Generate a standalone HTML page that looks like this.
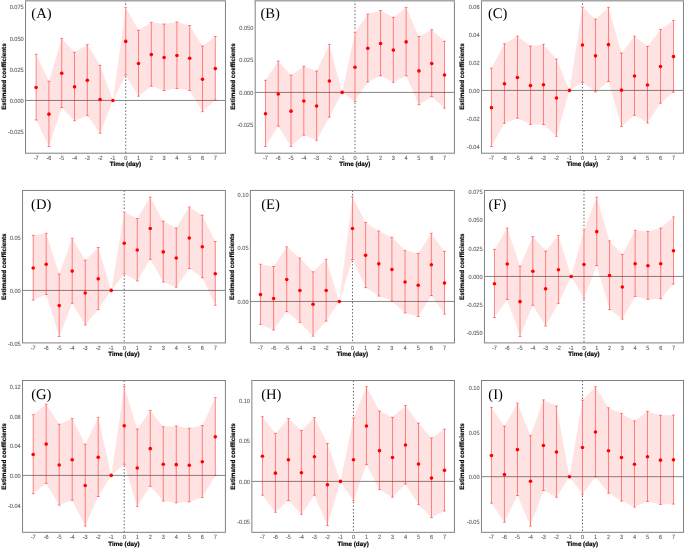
<!DOCTYPE html>
<html><head><meta charset="utf-8"><style>
html,body{margin:0;padding:0;background:#fff;}
body{width:685px;height:548px;overflow:hidden;}
svg{display:block;will-change:transform;}
text{text-rendering:geometricPrecision;}
.tk{font-family:"Liberation Sans",sans-serif;font-size:5.6px;fill:#5a5a5a;stroke:#5a5a5a;stroke-width:0.08px;}
.tt{font-family:"Liberation Sans",sans-serif;font-size:6.27px;font-weight:bold;fill:#000;stroke:#000;stroke-width:0.18px;}
.lt{font-family:"Liberation Serif",serif;font-size:14.6px;fill:#000;}
</style></head><body>
<svg width="685" height="548" viewBox="0 0 685 548">
<rect width="685" height="548" fill="#fff"/>
<path d="M125.72 0V6.1M125.72 76.1V153.2" stroke="#4a4a4a" stroke-width="0.9" stroke-dasharray="1.4 2.03" fill="none"/>
<line x1="25.54" x2="225.45" y1="100.45" y2="100.45" stroke="#858585" stroke-width="1.0"/>
<polygon points="36.13,54.3 48.93,81.2 61.73,38.5 74.52,52.3 87.32,44.7 100.12,65.3 112.92,100.45 125.72,7.3 138.51,30.3 151.31,22.3 164.11,24 176.91,22 189.7,25.5 202.5,46.1 215.3,36.5 215.3,100.1 202.5,111.7 189.7,90.5 176.91,88.5 164.11,90.5 151.31,86.3 138.51,96.2 125.72,74.9 112.92,100.45 100.12,133.2 87.32,115.4 74.52,120.8 61.73,107.5 48.93,146.5 36.13,120" fill="rgba(255,0,0,0.11)"/>
<path d="M36.13 54.3V120M34.68 54.3H37.58M34.68 120H37.58" stroke="rgba(255,0,0,0.45)" stroke-width="1.0" fill="none"/>
<path d="M48.93 81.2V146.5M47.48 81.2H50.38M47.48 146.5H50.38" stroke="rgba(255,0,0,0.45)" stroke-width="1.0" fill="none"/>
<path d="M61.73 38.5V107.5M60.28 38.5H63.18M60.28 107.5H63.18" stroke="rgba(255,0,0,0.45)" stroke-width="1.0" fill="none"/>
<path d="M74.52 52.3V120.8M73.07 52.3H75.97M73.07 120.8H75.97" stroke="rgba(255,0,0,0.45)" stroke-width="1.0" fill="none"/>
<path d="M87.32 44.7V115.4M85.87 44.7H88.77M85.87 115.4H88.77" stroke="rgba(255,0,0,0.45)" stroke-width="1.0" fill="none"/>
<path d="M100.12 65.3V133.2M98.67 65.3H101.57M98.67 133.2H101.57" stroke="rgba(255,0,0,0.45)" stroke-width="1.0" fill="none"/>
<path d="M125.72 7.3V74.9M124.27 7.3H127.17M124.27 74.9H127.17" stroke="rgba(255,0,0,0.45)" stroke-width="1.0" fill="none"/>
<path d="M138.51 30.3V96.2M137.06 30.3H139.96M137.06 96.2H139.96" stroke="rgba(255,0,0,0.45)" stroke-width="1.0" fill="none"/>
<path d="M151.31 22.3V86.3M149.86 22.3H152.76M149.86 86.3H152.76" stroke="rgba(255,0,0,0.45)" stroke-width="1.0" fill="none"/>
<path d="M164.11 24V90.5M162.66 24H165.56M162.66 90.5H165.56" stroke="rgba(255,0,0,0.45)" stroke-width="1.0" fill="none"/>
<path d="M176.91 22V88.5M175.46 22H178.36M175.46 88.5H178.36" stroke="rgba(255,0,0,0.45)" stroke-width="1.0" fill="none"/>
<path d="M189.7 25.5V90.5M188.25 25.5H191.15M188.25 90.5H191.15" stroke="rgba(255,0,0,0.45)" stroke-width="1.0" fill="none"/>
<path d="M202.5 46.1V111.7M201.05 46.1H203.95M201.05 111.7H203.95" stroke="rgba(255,0,0,0.45)" stroke-width="1.0" fill="none"/>
<path d="M215.3 36.5V100.1M213.85 36.5H216.75M213.85 100.1H216.75" stroke="rgba(255,0,0,0.45)" stroke-width="1.0" fill="none"/>
<circle cx="36.13" cy="87.45" r="1.8" fill="#ff0000"/>
<circle cx="48.93" cy="114.15" r="1.8" fill="#ff0000"/>
<circle cx="61.73" cy="73.3" r="1.8" fill="#ff0000"/>
<circle cx="74.52" cy="86.85" r="1.8" fill="#ff0000"/>
<circle cx="87.32" cy="80.35" r="1.8" fill="#ff0000"/>
<circle cx="100.12" cy="99.55" r="1.8" fill="#ff0000"/>
<circle cx="112.92" cy="100.45" r="1.8" fill="#ff0000"/>
<circle cx="125.72" cy="41.4" r="1.8" fill="#ff0000"/>
<circle cx="138.51" cy="63.55" r="1.8" fill="#ff0000"/>
<circle cx="151.31" cy="54.6" r="1.8" fill="#ff0000"/>
<circle cx="164.11" cy="57.55" r="1.8" fill="#ff0000"/>
<circle cx="176.91" cy="55.55" r="1.8" fill="#ff0000"/>
<circle cx="189.7" cy="58.3" r="1.8" fill="#ff0000"/>
<circle cx="202.5" cy="79.2" r="1.8" fill="#ff0000"/>
<circle cx="215.3" cy="68.6" r="1.8" fill="#ff0000"/>
<rect x="25.54" y="0" width="199.91" height="153.2" fill="none" stroke="#808080" stroke-width="1.0"/>
<line x1="25.04" x2="225.95" y1="0.75" y2="0.75" stroke="#a6a6a6" stroke-width="1.5"/>
<text transform="translate(23.64 9.45) scale(1 1.1)" text-anchor="end" class="tk">0.075</text>
<text transform="translate(23.64 40.55) scale(1 1.1)" text-anchor="end" class="tk">0.050</text>
<text transform="translate(23.64 71.65) scale(1 1.1)" text-anchor="end" class="tk">0.025</text>
<text transform="translate(23.64 102.75) scale(1 1.1)" text-anchor="end" class="tk">0.000</text>
<text transform="translate(23.64 133.85) scale(1 1.1)" text-anchor="end" class="tk">-0.025</text>
<text transform="translate(36.13 159.9) scale(1 1.1)" text-anchor="middle" class="tk">-7</text>
<text transform="translate(48.93 159.9) scale(1 1.1)" text-anchor="middle" class="tk">-6</text>
<text transform="translate(61.73 159.9) scale(1 1.1)" text-anchor="middle" class="tk">-5</text>
<text transform="translate(74.52 159.9) scale(1 1.1)" text-anchor="middle" class="tk">-4</text>
<text transform="translate(87.32 159.9) scale(1 1.1)" text-anchor="middle" class="tk">-3</text>
<text transform="translate(100.12 159.9) scale(1 1.1)" text-anchor="middle" class="tk">-2</text>
<text transform="translate(112.92 159.9) scale(1 1.1)" text-anchor="middle" class="tk">-1</text>
<text transform="translate(125.72 159.9) scale(1 1.1)" text-anchor="middle" class="tk">0</text>
<text transform="translate(138.51 159.9) scale(1 1.1)" text-anchor="middle" class="tk">1</text>
<text transform="translate(151.31 159.9) scale(1 1.1)" text-anchor="middle" class="tk">2</text>
<text transform="translate(164.11 159.9) scale(1 1.1)" text-anchor="middle" class="tk">3</text>
<text transform="translate(176.91 159.9) scale(1 1.1)" text-anchor="middle" class="tk">4</text>
<text transform="translate(189.7 159.9) scale(1 1.1)" text-anchor="middle" class="tk">5</text>
<text transform="translate(202.5 159.9) scale(1 1.1)" text-anchor="middle" class="tk">6</text>
<text transform="translate(215.3 159.9) scale(1 1.1)" text-anchor="middle" class="tk">7</text>
<text x="125.49" y="166.4" text-anchor="middle" class="tt">Time (day)</text>
<text transform="translate(25.54 0)" class="tt"></text>
<text x="31.3" y="18.3" class="lt">(A)</text>
<path d="M354.98 0V31.1M354.98 102.7V153.2" stroke="#4a4a4a" stroke-width="0.9" stroke-dasharray="1.4 2.03" fill="none"/>
<line x1="255.19" x2="454.4" y1="92.42" y2="92.42" stroke="#858585" stroke-width="1.0"/>
<polygon points="265.45,80.3 278.24,61.1 291.03,75.2 303.82,66.2 316.61,71 329.4,44.4 342.19,92.42 354.98,32.3 367.76,14.1 380.55,10.5 393.34,17.3 406.13,7.4 418.92,36.5 431.71,29.7 444.5,41.3 444.5,108.1 431.71,96.7 418.92,104.7 406.13,75.8 393.34,82.3 380.55,75.8 367.76,82 354.98,101.5 342.19,92.42 329.4,117.1 316.61,140.3 303.82,135.2 291.03,146.5 278.24,126.2 265.45,146.5" fill="rgba(255,0,0,0.11)"/>
<path d="M265.45 80.3V146.5M264 80.3H266.9M264 146.5H266.9" stroke="rgba(255,0,0,0.45)" stroke-width="1.0" fill="none"/>
<path d="M278.24 61.1V126.2M276.79 61.1H279.69M276.79 126.2H279.69" stroke="rgba(255,0,0,0.45)" stroke-width="1.0" fill="none"/>
<path d="M291.03 75.2V146.5M289.58 75.2H292.48M289.58 146.5H292.48" stroke="rgba(255,0,0,0.45)" stroke-width="1.0" fill="none"/>
<path d="M303.82 66.2V135.2M302.37 66.2H305.27M302.37 135.2H305.27" stroke="rgba(255,0,0,0.45)" stroke-width="1.0" fill="none"/>
<path d="M316.61 71V140.3M315.16 71H318.06M315.16 140.3H318.06" stroke="rgba(255,0,0,0.45)" stroke-width="1.0" fill="none"/>
<path d="M329.4 44.4V117.1M327.95 44.4H330.85M327.95 117.1H330.85" stroke="rgba(255,0,0,0.45)" stroke-width="1.0" fill="none"/>
<path d="M354.98 32.3V101.5M353.53 32.3H356.43M353.53 101.5H356.43" stroke="rgba(255,0,0,0.45)" stroke-width="1.0" fill="none"/>
<path d="M367.76 14.1V82M366.31 14.1H369.21M366.31 82H369.21" stroke="rgba(255,0,0,0.45)" stroke-width="1.0" fill="none"/>
<path d="M380.55 10.5V75.8M379.1 10.5H382M379.1 75.8H382" stroke="rgba(255,0,0,0.45)" stroke-width="1.0" fill="none"/>
<path d="M393.34 17.3V82.3M391.89 17.3H394.79M391.89 82.3H394.79" stroke="rgba(255,0,0,0.45)" stroke-width="1.0" fill="none"/>
<path d="M406.13 7.4V75.8M404.68 7.4H407.58M404.68 75.8H407.58" stroke="rgba(255,0,0,0.45)" stroke-width="1.0" fill="none"/>
<path d="M418.92 36.5V104.7M417.47 36.5H420.37M417.47 104.7H420.37" stroke="rgba(255,0,0,0.45)" stroke-width="1.0" fill="none"/>
<path d="M431.71 29.7V96.7M430.26 29.7H433.16M430.26 96.7H433.16" stroke="rgba(255,0,0,0.45)" stroke-width="1.0" fill="none"/>
<path d="M444.5 41.3V108.1M443.05 41.3H445.95M443.05 108.1H445.95" stroke="rgba(255,0,0,0.45)" stroke-width="1.0" fill="none"/>
<circle cx="265.45" cy="113.7" r="1.8" fill="#ff0000"/>
<circle cx="278.24" cy="93.95" r="1.8" fill="#ff0000"/>
<circle cx="291.03" cy="111.15" r="1.8" fill="#ff0000"/>
<circle cx="303.82" cy="101" r="1.8" fill="#ff0000"/>
<circle cx="316.61" cy="105.95" r="1.8" fill="#ff0000"/>
<circle cx="329.4" cy="81.05" r="1.8" fill="#ff0000"/>
<circle cx="342.19" cy="92.42" r="1.8" fill="#ff0000"/>
<circle cx="354.98" cy="67.2" r="1.8" fill="#ff0000"/>
<circle cx="367.76" cy="48.35" r="1.8" fill="#ff0000"/>
<circle cx="380.55" cy="43.45" r="1.8" fill="#ff0000"/>
<circle cx="393.34" cy="50.1" r="1.8" fill="#ff0000"/>
<circle cx="406.13" cy="41.9" r="1.8" fill="#ff0000"/>
<circle cx="418.92" cy="70.9" r="1.8" fill="#ff0000"/>
<circle cx="431.71" cy="63.5" r="1.8" fill="#ff0000"/>
<circle cx="444.5" cy="75" r="1.8" fill="#ff0000"/>
<rect x="255.19" y="0" width="199.21" height="153.2" fill="none" stroke="#808080" stroke-width="1.0"/>
<line x1="254.69" x2="454.9" y1="0.75" y2="0.75" stroke="#a6a6a6" stroke-width="1.5"/>
<text transform="translate(253.29 29.65) scale(1 1.1)" text-anchor="end" class="tk">0.050</text>
<text transform="translate(253.29 62.15) scale(1 1.1)" text-anchor="end" class="tk">0.025</text>
<text transform="translate(253.29 94.65) scale(1 1.1)" text-anchor="end" class="tk">0.000</text>
<text transform="translate(253.29 127.15) scale(1 1.1)" text-anchor="end" class="tk">-0.025</text>
<text transform="translate(265.45 159.9) scale(1 1.1)" text-anchor="middle" class="tk">-7</text>
<text transform="translate(278.24 159.9) scale(1 1.1)" text-anchor="middle" class="tk">-6</text>
<text transform="translate(291.03 159.9) scale(1 1.1)" text-anchor="middle" class="tk">-5</text>
<text transform="translate(303.82 159.9) scale(1 1.1)" text-anchor="middle" class="tk">-4</text>
<text transform="translate(316.61 159.9) scale(1 1.1)" text-anchor="middle" class="tk">-3</text>
<text transform="translate(329.4 159.9) scale(1 1.1)" text-anchor="middle" class="tk">-2</text>
<text transform="translate(342.19 159.9) scale(1 1.1)" text-anchor="middle" class="tk">-1</text>
<text transform="translate(354.98 159.9) scale(1 1.1)" text-anchor="middle" class="tk">0</text>
<text transform="translate(367.76 159.9) scale(1 1.1)" text-anchor="middle" class="tk">1</text>
<text transform="translate(380.55 159.9) scale(1 1.1)" text-anchor="middle" class="tk">2</text>
<text transform="translate(393.34 159.9) scale(1 1.1)" text-anchor="middle" class="tk">3</text>
<text transform="translate(406.13 159.9) scale(1 1.1)" text-anchor="middle" class="tk">4</text>
<text transform="translate(418.92 159.9) scale(1 1.1)" text-anchor="middle" class="tk">5</text>
<text transform="translate(431.71 159.9) scale(1 1.1)" text-anchor="middle" class="tk">6</text>
<text transform="translate(444.5 159.9) scale(1 1.1)" text-anchor="middle" class="tk">7</text>
<text x="354.79" y="166.4" text-anchor="middle" class="tt">Time (day)</text>
<text transform="translate(255.19 0)" class="tt"></text>
<text x="260.5" y="18.3" class="lt">(B)</text>
<path d="M582.48 0V5.9M582.48 83.5V153.2" stroke="#4a4a4a" stroke-width="0.9" stroke-dasharray="1.4 2.03" fill="none"/>
<line x1="481.46" x2="683.45" y1="90.42" y2="90.42" stroke="#858585" stroke-width="1.0"/>
<polygon points="491.45,68.2 504.45,43.8 517.46,36.2 530.46,46.1 543.46,44.4 556.47,59.1 569.47,90.42 582.48,7.1 595.48,19.2 608.48,7.3 621.49,53.1 634.49,36.2 647.49,46.4 660.5,29.4 673.5,20.4 673.5,92.2 660.5,103.2 647.49,123 634.49,115.3 621.49,126.6 608.48,81.4 595.48,91.9 582.48,82.3 569.47,90.42 556.47,136.3 543.46,124.5 530.46,124.5 517.46,118.2 504.45,123.3 491.45,146.5" fill="rgba(255,0,0,0.11)"/>
<path d="M491.45 68.2V146.5M490 68.2H492.9M490 146.5H492.9" stroke="rgba(255,0,0,0.45)" stroke-width="1.0" fill="none"/>
<path d="M504.45 43.8V123.3M503 43.8H505.9M503 123.3H505.9" stroke="rgba(255,0,0,0.45)" stroke-width="1.0" fill="none"/>
<path d="M517.46 36.2V118.2M516.01 36.2H518.91M516.01 118.2H518.91" stroke="rgba(255,0,0,0.45)" stroke-width="1.0" fill="none"/>
<path d="M530.46 46.1V124.5M529.01 46.1H531.91M529.01 124.5H531.91" stroke="rgba(255,0,0,0.45)" stroke-width="1.0" fill="none"/>
<path d="M543.46 44.4V124.5M542.01 44.4H544.91M542.01 124.5H544.91" stroke="rgba(255,0,0,0.45)" stroke-width="1.0" fill="none"/>
<path d="M556.47 59.1V136.3M555.02 59.1H557.92M555.02 136.3H557.92" stroke="rgba(255,0,0,0.45)" stroke-width="1.0" fill="none"/>
<path d="M582.48 7.1V82.3M581.02 7.1H583.93M581.02 82.3H583.93" stroke="rgba(255,0,0,0.45)" stroke-width="1.0" fill="none"/>
<path d="M595.48 19.2V91.9M594.03 19.2H596.93M594.03 91.9H596.93" stroke="rgba(255,0,0,0.45)" stroke-width="1.0" fill="none"/>
<path d="M608.48 7.3V81.4M607.03 7.3H609.93M607.03 81.4H609.93" stroke="rgba(255,0,0,0.45)" stroke-width="1.0" fill="none"/>
<path d="M621.49 53.1V126.6M620.04 53.1H622.94M620.04 126.6H622.94" stroke="rgba(255,0,0,0.45)" stroke-width="1.0" fill="none"/>
<path d="M634.49 36.2V115.3M633.04 36.2H635.94M633.04 115.3H635.94" stroke="rgba(255,0,0,0.45)" stroke-width="1.0" fill="none"/>
<path d="M647.49 46.4V123M646.04 46.4H648.94M646.04 123H648.94" stroke="rgba(255,0,0,0.45)" stroke-width="1.0" fill="none"/>
<path d="M660.5 29.4V103.2M659.05 29.4H661.95M659.05 103.2H661.95" stroke="rgba(255,0,0,0.45)" stroke-width="1.0" fill="none"/>
<path d="M673.5 20.4V92.2M672.05 20.4H674.95M672.05 92.2H674.95" stroke="rgba(255,0,0,0.45)" stroke-width="1.0" fill="none"/>
<circle cx="491.45" cy="107.65" r="1.8" fill="#ff0000"/>
<circle cx="504.45" cy="83.85" r="1.8" fill="#ff0000"/>
<circle cx="517.46" cy="77.5" r="1.8" fill="#ff0000"/>
<circle cx="530.46" cy="85.6" r="1.8" fill="#ff0000"/>
<circle cx="543.46" cy="84.75" r="1.8" fill="#ff0000"/>
<circle cx="556.47" cy="98" r="1.8" fill="#ff0000"/>
<circle cx="569.47" cy="90.42" r="1.8" fill="#ff0000"/>
<circle cx="582.48" cy="45" r="1.8" fill="#ff0000"/>
<circle cx="595.48" cy="55.85" r="1.8" fill="#ff0000"/>
<circle cx="608.48" cy="44.65" r="1.8" fill="#ff0000"/>
<circle cx="621.49" cy="90.15" r="1.8" fill="#ff0000"/>
<circle cx="634.49" cy="76.05" r="1.8" fill="#ff0000"/>
<circle cx="647.49" cy="85" r="1.8" fill="#ff0000"/>
<circle cx="660.5" cy="66.6" r="1.8" fill="#ff0000"/>
<circle cx="673.5" cy="56.6" r="1.8" fill="#ff0000"/>
<rect x="481.46" y="0" width="201.99" height="153.2" fill="none" stroke="#808080" stroke-width="1.0"/>
<line x1="480.96" x2="683.95" y1="0.75" y2="0.75" stroke="#a6a6a6" stroke-width="1.5"/>
<text transform="translate(479.56 8.85) scale(1 1.1)" text-anchor="end" class="tk">0.06</text>
<text transform="translate(479.56 36.75) scale(1 1.1)" text-anchor="end" class="tk">0.04</text>
<text transform="translate(479.56 64.65) scale(1 1.1)" text-anchor="end" class="tk">0.02</text>
<text transform="translate(479.56 92.65) scale(1 1.1)" text-anchor="end" class="tk">0.00</text>
<text transform="translate(479.56 120.65) scale(1 1.1)" text-anchor="end" class="tk">-0.02</text>
<text transform="translate(479.56 148.75) scale(1 1.1)" text-anchor="end" class="tk">-0.04</text>
<text transform="translate(491.45 159.9) scale(1 1.1)" text-anchor="middle" class="tk">-7</text>
<text transform="translate(504.45 159.9) scale(1 1.1)" text-anchor="middle" class="tk">-6</text>
<text transform="translate(517.46 159.9) scale(1 1.1)" text-anchor="middle" class="tk">-5</text>
<text transform="translate(530.46 159.9) scale(1 1.1)" text-anchor="middle" class="tk">-4</text>
<text transform="translate(543.46 159.9) scale(1 1.1)" text-anchor="middle" class="tk">-3</text>
<text transform="translate(556.47 159.9) scale(1 1.1)" text-anchor="middle" class="tk">-2</text>
<text transform="translate(569.47 159.9) scale(1 1.1)" text-anchor="middle" class="tk">-1</text>
<text transform="translate(582.48 159.9) scale(1 1.1)" text-anchor="middle" class="tk">0</text>
<text transform="translate(595.48 159.9) scale(1 1.1)" text-anchor="middle" class="tk">1</text>
<text transform="translate(608.48 159.9) scale(1 1.1)" text-anchor="middle" class="tk">2</text>
<text transform="translate(621.49 159.9) scale(1 1.1)" text-anchor="middle" class="tk">3</text>
<text transform="translate(634.49 159.9) scale(1 1.1)" text-anchor="middle" class="tk">4</text>
<text transform="translate(647.49 159.9) scale(1 1.1)" text-anchor="middle" class="tk">5</text>
<text transform="translate(660.5 159.9) scale(1 1.1)" text-anchor="middle" class="tk">6</text>
<text transform="translate(673.5 159.9) scale(1 1.1)" text-anchor="middle" class="tk">7</text>
<text x="582.46" y="166.4" text-anchor="middle" class="tt">Time (day)</text>
<text transform="translate(481.46 0)" class="tt"></text>
<text x="488" y="18.3" class="lt">(C)</text>
<path d="M124.24 190.45V210.8M124.24 275V342.9" stroke="#4a4a4a" stroke-width="0.9" stroke-dasharray="1.4 2.03" fill="none"/>
<line x1="22.54" x2="225.4" y1="290.42" y2="290.42" stroke="#858585" stroke-width="1.0"/>
<polygon points="33.19,235.3 46.2,233.3 59.21,274.1 72.21,238.3 85.22,260.3 98.23,247.5 111.24,290.42 124.24,212 137.25,218.5 150.26,197.2 163.27,221.2 176.28,228.1 189.28,207 202.29,215.2 215.3,241.5 215.3,305.3 202.29,277.7 189.28,268.5 176.28,287.2 163.27,282 150.26,259.3 137.25,281 124.24,273.8 111.24,290.42 98.23,309.6 85.22,325 72.21,303.3 59.21,336.5 46.2,294.5 33.19,300.1" fill="rgba(255,0,0,0.11)"/>
<path d="M33.19 235.3V300.1M31.74 235.3H34.64M31.74 300.1H34.64" stroke="rgba(255,0,0,0.45)" stroke-width="1.0" fill="none"/>
<path d="M46.2 233.3V294.5M44.75 233.3H47.65M44.75 294.5H47.65" stroke="rgba(255,0,0,0.45)" stroke-width="1.0" fill="none"/>
<path d="M59.21 274.1V336.5M57.76 274.1H60.66M57.76 336.5H60.66" stroke="rgba(255,0,0,0.45)" stroke-width="1.0" fill="none"/>
<path d="M72.21 238.3V303.3M70.76 238.3H73.66M70.76 303.3H73.66" stroke="rgba(255,0,0,0.45)" stroke-width="1.0" fill="none"/>
<path d="M85.22 260.3V325M83.77 260.3H86.67M83.77 325H86.67" stroke="rgba(255,0,0,0.45)" stroke-width="1.0" fill="none"/>
<path d="M98.23 247.5V309.6M96.78 247.5H99.68M96.78 309.6H99.68" stroke="rgba(255,0,0,0.45)" stroke-width="1.0" fill="none"/>
<path d="M124.24 212V273.8M122.79 212H125.69M122.79 273.8H125.69" stroke="rgba(255,0,0,0.45)" stroke-width="1.0" fill="none"/>
<path d="M137.25 218.5V281M135.8 218.5H138.7M135.8 281H138.7" stroke="rgba(255,0,0,0.45)" stroke-width="1.0" fill="none"/>
<path d="M150.26 197.2V259.3M148.81 197.2H151.71M148.81 259.3H151.71" stroke="rgba(255,0,0,0.45)" stroke-width="1.0" fill="none"/>
<path d="M163.27 221.2V282M161.82 221.2H164.72M161.82 282H164.72" stroke="rgba(255,0,0,0.45)" stroke-width="1.0" fill="none"/>
<path d="M176.28 228.1V287.2M174.83 228.1H177.73M174.83 287.2H177.73" stroke="rgba(255,0,0,0.45)" stroke-width="1.0" fill="none"/>
<path d="M189.28 207V268.5M187.83 207H190.73M187.83 268.5H190.73" stroke="rgba(255,0,0,0.45)" stroke-width="1.0" fill="none"/>
<path d="M202.29 215.2V277.7M200.84 215.2H203.74M200.84 277.7H203.74" stroke="rgba(255,0,0,0.45)" stroke-width="1.0" fill="none"/>
<path d="M215.3 241.5V305.3M213.85 241.5H216.75M213.85 305.3H216.75" stroke="rgba(255,0,0,0.45)" stroke-width="1.0" fill="none"/>
<circle cx="33.19" cy="268" r="1.8" fill="#ff0000"/>
<circle cx="46.2" cy="264.2" r="1.8" fill="#ff0000"/>
<circle cx="59.21" cy="305.6" r="1.8" fill="#ff0000"/>
<circle cx="72.21" cy="271.1" r="1.8" fill="#ff0000"/>
<circle cx="85.22" cy="292.95" r="1.8" fill="#ff0000"/>
<circle cx="98.23" cy="278.85" r="1.8" fill="#ff0000"/>
<circle cx="111.24" cy="290.42" r="1.8" fill="#ff0000"/>
<circle cx="124.24" cy="243.2" r="1.8" fill="#ff0000"/>
<circle cx="137.25" cy="250.05" r="1.8" fill="#ff0000"/>
<circle cx="150.26" cy="228.55" r="1.8" fill="#ff0000"/>
<circle cx="163.27" cy="251.9" r="1.8" fill="#ff0000"/>
<circle cx="176.28" cy="257.95" r="1.8" fill="#ff0000"/>
<circle cx="189.28" cy="238.05" r="1.8" fill="#ff0000"/>
<circle cx="202.29" cy="246.75" r="1.8" fill="#ff0000"/>
<circle cx="215.3" cy="273.7" r="1.8" fill="#ff0000"/>
<rect x="22.54" y="190.45" width="202.86" height="152.45" fill="none" stroke="#808080" stroke-width="1.0"/>
<text transform="translate(20.64 240.05) scale(1 1.1)" text-anchor="end" class="tk">0.05</text>
<text transform="translate(20.64 292.95) scale(1 1.1)" text-anchor="end" class="tk">0.00</text>
<text transform="translate(20.64 345.55) scale(1 1.1)" text-anchor="end" class="tk">-0.05</text>
<text transform="translate(33.19 349.6) scale(1 1.1)" text-anchor="middle" class="tk">-7</text>
<text transform="translate(46.2 349.6) scale(1 1.1)" text-anchor="middle" class="tk">-6</text>
<text transform="translate(59.21 349.6) scale(1 1.1)" text-anchor="middle" class="tk">-5</text>
<text transform="translate(72.21 349.6) scale(1 1.1)" text-anchor="middle" class="tk">-4</text>
<text transform="translate(85.22 349.6) scale(1 1.1)" text-anchor="middle" class="tk">-3</text>
<text transform="translate(98.23 349.6) scale(1 1.1)" text-anchor="middle" class="tk">-2</text>
<text transform="translate(111.24 349.6) scale(1 1.1)" text-anchor="middle" class="tk">-1</text>
<text transform="translate(124.24 349.6) scale(1 1.1)" text-anchor="middle" class="tk">0</text>
<text transform="translate(137.25 349.6) scale(1 1.1)" text-anchor="middle" class="tk">1</text>
<text transform="translate(150.26 349.6) scale(1 1.1)" text-anchor="middle" class="tk">2</text>
<text transform="translate(163.27 349.6) scale(1 1.1)" text-anchor="middle" class="tk">3</text>
<text transform="translate(176.28 349.6) scale(1 1.1)" text-anchor="middle" class="tk">4</text>
<text transform="translate(189.28 349.6) scale(1 1.1)" text-anchor="middle" class="tk">5</text>
<text transform="translate(202.29 349.6) scale(1 1.1)" text-anchor="middle" class="tk">6</text>
<text transform="translate(215.3 349.6) scale(1 1.1)" text-anchor="middle" class="tk">7</text>
<text x="123.97" y="356.1" text-anchor="middle" class="tt">Time (day)</text>
<text transform="translate(22.54 0)" class="tt"></text>
<text x="31.1" y="208.75" class="lt">(D)</text>
<path d="M352.48 190.45V195.6M352.48 260.8V342.9" stroke="#4a4a4a" stroke-width="0.9" stroke-dasharray="1.4 2.03" fill="none"/>
<line x1="250.41" x2="454.45" y1="301.44" y2="301.44" stroke="#858585" stroke-width="1.0"/>
<polygon points="260.45,264.2 273.6,266.5 286.74,246.8 299.89,258 313.04,271.8 326.18,259.3 339.33,301.44 352.48,196.8 365.62,222.5 378.77,231 391.91,237.3 405.06,250.4 418.21,253.4 431.35,233.3 444.5,251.4 444.5,314.2 431.35,295.5 418.21,316.5 405.06,312.9 391.91,301 378.77,296.1 365.62,287.6 352.48,259.6 339.33,301.44 326.18,321.1 313.04,336.2 299.89,322.4 286.74,311.6 273.6,330 260.45,324.4" fill="rgba(255,0,0,0.11)"/>
<path d="M260.45 264.2V324.4M259 264.2H261.9M259 324.4H261.9" stroke="rgba(255,0,0,0.45)" stroke-width="1.0" fill="none"/>
<path d="M273.6 266.5V330M272.15 266.5H275.05M272.15 330H275.05" stroke="rgba(255,0,0,0.45)" stroke-width="1.0" fill="none"/>
<path d="M286.74 246.8V311.6M285.29 246.8H288.19M285.29 311.6H288.19" stroke="rgba(255,0,0,0.45)" stroke-width="1.0" fill="none"/>
<path d="M299.89 258V322.4M298.44 258H301.34M298.44 322.4H301.34" stroke="rgba(255,0,0,0.45)" stroke-width="1.0" fill="none"/>
<path d="M313.04 271.8V336.2M311.59 271.8H314.49M311.59 336.2H314.49" stroke="rgba(255,0,0,0.45)" stroke-width="1.0" fill="none"/>
<path d="M326.18 259.3V321.1M324.73 259.3H327.63M324.73 321.1H327.63" stroke="rgba(255,0,0,0.45)" stroke-width="1.0" fill="none"/>
<path d="M352.48 196.8V259.6M351.03 196.8H353.93M351.03 259.6H353.93" stroke="rgba(255,0,0,0.45)" stroke-width="1.0" fill="none"/>
<path d="M365.62 222.5V287.6M364.17 222.5H367.07M364.17 287.6H367.07" stroke="rgba(255,0,0,0.45)" stroke-width="1.0" fill="none"/>
<path d="M378.77 231V296.1M377.32 231H380.22M377.32 296.1H380.22" stroke="rgba(255,0,0,0.45)" stroke-width="1.0" fill="none"/>
<path d="M391.91 237.3V301M390.46 237.3H393.36M390.46 301H393.36" stroke="rgba(255,0,0,0.45)" stroke-width="1.0" fill="none"/>
<path d="M405.06 250.4V312.9M403.61 250.4H406.51M403.61 312.9H406.51" stroke="rgba(255,0,0,0.45)" stroke-width="1.0" fill="none"/>
<path d="M418.21 253.4V316.5M416.76 253.4H419.66M416.76 316.5H419.66" stroke="rgba(255,0,0,0.45)" stroke-width="1.0" fill="none"/>
<path d="M431.35 233.3V295.5M429.9 233.3H432.8M429.9 295.5H432.8" stroke="rgba(255,0,0,0.45)" stroke-width="1.0" fill="none"/>
<path d="M444.5 251.4V314.2M443.05 251.4H445.95M443.05 314.2H445.95" stroke="rgba(255,0,0,0.45)" stroke-width="1.0" fill="none"/>
<circle cx="260.45" cy="294.6" r="1.8" fill="#ff0000"/>
<circle cx="273.6" cy="298.55" r="1.8" fill="#ff0000"/>
<circle cx="286.74" cy="279.5" r="1.8" fill="#ff0000"/>
<circle cx="299.89" cy="290.5" r="1.8" fill="#ff0000"/>
<circle cx="313.04" cy="304.3" r="1.8" fill="#ff0000"/>
<circle cx="326.18" cy="290.5" r="1.8" fill="#ff0000"/>
<circle cx="339.33" cy="301.44" r="1.8" fill="#ff0000"/>
<circle cx="352.48" cy="228.5" r="1.8" fill="#ff0000"/>
<circle cx="365.62" cy="255.35" r="1.8" fill="#ff0000"/>
<circle cx="378.77" cy="263.85" r="1.8" fill="#ff0000"/>
<circle cx="391.91" cy="269.45" r="1.8" fill="#ff0000"/>
<circle cx="405.06" cy="281.95" r="1.8" fill="#ff0000"/>
<circle cx="418.21" cy="285.25" r="1.8" fill="#ff0000"/>
<circle cx="431.35" cy="264.7" r="1.8" fill="#ff0000"/>
<circle cx="444.5" cy="283.1" r="1.8" fill="#ff0000"/>
<rect x="250.41" y="190.45" width="204.04" height="152.45" fill="none" stroke="#808080" stroke-width="1.0"/>
<text transform="translate(248.51 196.95) scale(1 1.1)" text-anchor="end" class="tk">0.10</text>
<text transform="translate(248.51 250.35) scale(1 1.1)" text-anchor="end" class="tk">0.05</text>
<text transform="translate(248.51 303.85) scale(1 1.1)" text-anchor="end" class="tk">0.00</text>
<text transform="translate(260.45 349.6) scale(1 1.1)" text-anchor="middle" class="tk">-7</text>
<text transform="translate(273.6 349.6) scale(1 1.1)" text-anchor="middle" class="tk">-6</text>
<text transform="translate(286.74 349.6) scale(1 1.1)" text-anchor="middle" class="tk">-5</text>
<text transform="translate(299.89 349.6) scale(1 1.1)" text-anchor="middle" class="tk">-4</text>
<text transform="translate(313.04 349.6) scale(1 1.1)" text-anchor="middle" class="tk">-3</text>
<text transform="translate(326.18 349.6) scale(1 1.1)" text-anchor="middle" class="tk">-2</text>
<text transform="translate(339.33 349.6) scale(1 1.1)" text-anchor="middle" class="tk">-1</text>
<text transform="translate(352.48 349.6) scale(1 1.1)" text-anchor="middle" class="tk">0</text>
<text transform="translate(365.62 349.6) scale(1 1.1)" text-anchor="middle" class="tk">1</text>
<text transform="translate(378.77 349.6) scale(1 1.1)" text-anchor="middle" class="tk">2</text>
<text transform="translate(391.91 349.6) scale(1 1.1)" text-anchor="middle" class="tk">3</text>
<text transform="translate(405.06 349.6) scale(1 1.1)" text-anchor="middle" class="tk">4</text>
<text transform="translate(418.21 349.6) scale(1 1.1)" text-anchor="middle" class="tk">5</text>
<text transform="translate(431.35 349.6) scale(1 1.1)" text-anchor="middle" class="tk">6</text>
<text transform="translate(444.5 349.6) scale(1 1.1)" text-anchor="middle" class="tk">7</text>
<text x="352.43" y="356.1" text-anchor="middle" class="tt">Time (day)</text>
<text transform="translate(250.41 0)" class="tt"></text>
<text x="261.2" y="208.75" class="lt">(E)</text>
<path d="M583.98 190.45V228.8M583.98 299.6V342.9" stroke="#4a4a4a" stroke-width="0.9" stroke-dasharray="1.4 2.03" fill="none"/>
<line x1="484.46" x2="683.45" y1="276.44" y2="276.44" stroke="#858585" stroke-width="1.0"/>
<polygon points="494.45,249.4 507.24,228.1 520.03,266.2 532.82,236.6 545.61,251.1 558.4,235.6 571.19,276.44 583.98,230 596.76,197.2 609.55,240.9 622.34,254.4 635.13,230.4 647.92,231.4 660.71,228.1 673.5,216.9 673.5,284 660.71,298.7 647.92,299.4 635.13,296.4 622.34,319.1 609.55,309.6 596.76,265.5 583.98,298.4 571.19,276.44 558.4,303.3 545.61,326 532.82,305.3 520.03,336.5 507.24,299.4 494.45,317.5" fill="rgba(255,0,0,0.11)"/>
<path d="M494.45 249.4V317.5M493 249.4H495.9M493 317.5H495.9" stroke="rgba(255,0,0,0.45)" stroke-width="1.0" fill="none"/>
<path d="M507.24 228.1V299.4M505.79 228.1H508.69M505.79 299.4H508.69" stroke="rgba(255,0,0,0.45)" stroke-width="1.0" fill="none"/>
<path d="M520.03 266.2V336.5M518.58 266.2H521.48M518.58 336.5H521.48" stroke="rgba(255,0,0,0.45)" stroke-width="1.0" fill="none"/>
<path d="M532.82 236.6V305.3M531.37 236.6H534.27M531.37 305.3H534.27" stroke="rgba(255,0,0,0.45)" stroke-width="1.0" fill="none"/>
<path d="M545.61 251.1V326M544.16 251.1H547.06M544.16 326H547.06" stroke="rgba(255,0,0,0.45)" stroke-width="1.0" fill="none"/>
<path d="M558.4 235.6V303.3M556.95 235.6H559.85M556.95 303.3H559.85" stroke="rgba(255,0,0,0.45)" stroke-width="1.0" fill="none"/>
<path d="M583.98 230V298.4M582.52 230H585.43M582.52 298.4H585.43" stroke="rgba(255,0,0,0.45)" stroke-width="1.0" fill="none"/>
<path d="M596.76 197.2V265.5M595.31 197.2H598.21M595.31 265.5H598.21" stroke="rgba(255,0,0,0.45)" stroke-width="1.0" fill="none"/>
<path d="M609.55 240.9V309.6M608.1 240.9H611M608.1 309.6H611" stroke="rgba(255,0,0,0.45)" stroke-width="1.0" fill="none"/>
<path d="M622.34 254.4V319.1M620.89 254.4H623.79M620.89 319.1H623.79" stroke="rgba(255,0,0,0.45)" stroke-width="1.0" fill="none"/>
<path d="M635.13 230.4V296.4M633.68 230.4H636.58M633.68 296.4H636.58" stroke="rgba(255,0,0,0.45)" stroke-width="1.0" fill="none"/>
<path d="M647.92 231.4V299.4M646.47 231.4H649.37M646.47 299.4H649.37" stroke="rgba(255,0,0,0.45)" stroke-width="1.0" fill="none"/>
<path d="M660.71 228.1V298.7M659.26 228.1H662.16M659.26 298.7H662.16" stroke="rgba(255,0,0,0.45)" stroke-width="1.0" fill="none"/>
<path d="M673.5 216.9V284M672.05 216.9H674.95M672.05 284H674.95" stroke="rgba(255,0,0,0.45)" stroke-width="1.0" fill="none"/>
<circle cx="494.45" cy="283.75" r="1.8" fill="#ff0000"/>
<circle cx="507.24" cy="264.05" r="1.8" fill="#ff0000"/>
<circle cx="520.03" cy="301.65" r="1.8" fill="#ff0000"/>
<circle cx="532.82" cy="271.25" r="1.8" fill="#ff0000"/>
<circle cx="545.61" cy="288.85" r="1.8" fill="#ff0000"/>
<circle cx="558.4" cy="269.75" r="1.8" fill="#ff0000"/>
<circle cx="571.19" cy="276.44" r="1.8" fill="#ff0000"/>
<circle cx="583.98" cy="264.5" r="1.8" fill="#ff0000"/>
<circle cx="596.76" cy="231.65" r="1.8" fill="#ff0000"/>
<circle cx="609.55" cy="275.55" r="1.8" fill="#ff0000"/>
<circle cx="622.34" cy="287.05" r="1.8" fill="#ff0000"/>
<circle cx="635.13" cy="263.7" r="1.8" fill="#ff0000"/>
<circle cx="647.92" cy="265.7" r="1.8" fill="#ff0000"/>
<circle cx="660.71" cy="263.7" r="1.8" fill="#ff0000"/>
<circle cx="673.5" cy="250.75" r="1.8" fill="#ff0000"/>
<rect x="484.46" y="190.45" width="198.99" height="152.45" fill="none" stroke="#808080" stroke-width="1.0"/>
<text transform="translate(482.56 194.05) scale(1 1.1)" text-anchor="end" class="tk">0.075</text>
<text transform="translate(482.56 222.35) scale(1 1.1)" text-anchor="end" class="tk">0.050</text>
<text transform="translate(482.56 250.55) scale(1 1.1)" text-anchor="end" class="tk">0.025</text>
<text transform="translate(482.56 278.85) scale(1 1.1)" text-anchor="end" class="tk">0.000</text>
<text transform="translate(482.56 307.15) scale(1 1.1)" text-anchor="end" class="tk">-0.025</text>
<text transform="translate(482.56 335.45) scale(1 1.1)" text-anchor="end" class="tk">-0.050</text>
<text transform="translate(494.45 349.6) scale(1 1.1)" text-anchor="middle" class="tk">-7</text>
<text transform="translate(507.24 349.6) scale(1 1.1)" text-anchor="middle" class="tk">-6</text>
<text transform="translate(520.03 349.6) scale(1 1.1)" text-anchor="middle" class="tk">-5</text>
<text transform="translate(532.82 349.6) scale(1 1.1)" text-anchor="middle" class="tk">-4</text>
<text transform="translate(545.61 349.6) scale(1 1.1)" text-anchor="middle" class="tk">-3</text>
<text transform="translate(558.4 349.6) scale(1 1.1)" text-anchor="middle" class="tk">-2</text>
<text transform="translate(571.19 349.6) scale(1 1.1)" text-anchor="middle" class="tk">-1</text>
<text transform="translate(583.98 349.6) scale(1 1.1)" text-anchor="middle" class="tk">0</text>
<text transform="translate(596.76 349.6) scale(1 1.1)" text-anchor="middle" class="tk">1</text>
<text transform="translate(609.55 349.6) scale(1 1.1)" text-anchor="middle" class="tk">2</text>
<text transform="translate(622.34 349.6) scale(1 1.1)" text-anchor="middle" class="tk">3</text>
<text transform="translate(635.13 349.6) scale(1 1.1)" text-anchor="middle" class="tk">4</text>
<text transform="translate(647.92 349.6) scale(1 1.1)" text-anchor="middle" class="tk">5</text>
<text transform="translate(660.71 349.6) scale(1 1.1)" text-anchor="middle" class="tk">6</text>
<text transform="translate(673.5 349.6) scale(1 1.1)" text-anchor="middle" class="tk">7</text>
<text x="583.96" y="356.1" text-anchor="middle" class="tt">Time (day)</text>
<text transform="translate(484.46 0)" class="tt"></text>
<text x="488.5" y="208.75" class="lt">(F)</text>
<path d="M124.24 380.5V385.5M124.24 465.5V532.33" stroke="#4a4a4a" stroke-width="0.9" stroke-dasharray="1.4 2.03" fill="none"/>
<line x1="22.54" x2="225.4" y1="475.42" y2="475.42" stroke="#858585" stroke-width="1.0"/>
<polygon points="33.19,414.7 46.2,404.2 59.21,424.2 72.21,418.6 85.22,444.3 98.23,417.3 111.24,475.42 124.24,386.7 137.25,429.1 150.26,410.4 163.27,426.8 176.28,425.9 189.28,428.2 202.29,425.5 215.3,397.6 215.3,475.5 202.29,497.5 189.28,501.8 176.28,502.8 163.27,501.1 150.26,486.3 137.25,506.4 124.24,464.3 111.24,475.42 98.23,496.5 85.22,526.1 72.21,500.2 59.21,505.1 46.2,483.4 33.19,493.6" fill="rgba(255,0,0,0.11)"/>
<path d="M33.19 414.7V493.6M31.74 414.7H34.64M31.74 493.6H34.64" stroke="rgba(255,0,0,0.45)" stroke-width="1.0" fill="none"/>
<path d="M46.2 404.2V483.4M44.75 404.2H47.65M44.75 483.4H47.65" stroke="rgba(255,0,0,0.45)" stroke-width="1.0" fill="none"/>
<path d="M59.21 424.2V505.1M57.76 424.2H60.66M57.76 505.1H60.66" stroke="rgba(255,0,0,0.45)" stroke-width="1.0" fill="none"/>
<path d="M72.21 418.6V500.2M70.76 418.6H73.66M70.76 500.2H73.66" stroke="rgba(255,0,0,0.45)" stroke-width="1.0" fill="none"/>
<path d="M85.22 444.3V526.1M83.77 444.3H86.67M83.77 526.1H86.67" stroke="rgba(255,0,0,0.45)" stroke-width="1.0" fill="none"/>
<path d="M98.23 417.3V496.5M96.78 417.3H99.68M96.78 496.5H99.68" stroke="rgba(255,0,0,0.45)" stroke-width="1.0" fill="none"/>
<path d="M124.24 386.7V464.3M122.79 386.7H125.69M122.79 464.3H125.69" stroke="rgba(255,0,0,0.45)" stroke-width="1.0" fill="none"/>
<path d="M137.25 429.1V506.4M135.8 429.1H138.7M135.8 506.4H138.7" stroke="rgba(255,0,0,0.45)" stroke-width="1.0" fill="none"/>
<path d="M150.26 410.4V486.3M148.81 410.4H151.71M148.81 486.3H151.71" stroke="rgba(255,0,0,0.45)" stroke-width="1.0" fill="none"/>
<path d="M163.27 426.8V501.1M161.82 426.8H164.72M161.82 501.1H164.72" stroke="rgba(255,0,0,0.45)" stroke-width="1.0" fill="none"/>
<path d="M176.28 425.9V502.8M174.83 425.9H177.73M174.83 502.8H177.73" stroke="rgba(255,0,0,0.45)" stroke-width="1.0" fill="none"/>
<path d="M189.28 428.2V501.8M187.83 428.2H190.73M187.83 501.8H190.73" stroke="rgba(255,0,0,0.45)" stroke-width="1.0" fill="none"/>
<path d="M202.29 425.5V497.5M200.84 425.5H203.74M200.84 497.5H203.74" stroke="rgba(255,0,0,0.45)" stroke-width="1.0" fill="none"/>
<path d="M215.3 397.6V475.5M213.85 397.6H216.75M213.85 475.5H216.75" stroke="rgba(255,0,0,0.45)" stroke-width="1.0" fill="none"/>
<circle cx="33.19" cy="454.45" r="1.8" fill="#ff0000"/>
<circle cx="46.2" cy="444.1" r="1.8" fill="#ff0000"/>
<circle cx="59.21" cy="464.95" r="1.8" fill="#ff0000"/>
<circle cx="72.21" cy="459.7" r="1.8" fill="#ff0000"/>
<circle cx="85.22" cy="485.5" r="1.8" fill="#ff0000"/>
<circle cx="98.23" cy="457.2" r="1.8" fill="#ff0000"/>
<circle cx="111.24" cy="475.42" r="1.8" fill="#ff0000"/>
<circle cx="124.24" cy="425.8" r="1.8" fill="#ff0000"/>
<circle cx="137.25" cy="468.05" r="1.8" fill="#ff0000"/>
<circle cx="150.26" cy="448.65" r="1.8" fill="#ff0000"/>
<circle cx="163.27" cy="464.25" r="1.8" fill="#ff0000"/>
<circle cx="176.28" cy="464.65" r="1.8" fill="#ff0000"/>
<circle cx="189.28" cy="465.3" r="1.8" fill="#ff0000"/>
<circle cx="202.29" cy="461.8" r="1.8" fill="#ff0000"/>
<circle cx="215.3" cy="436.85" r="1.8" fill="#ff0000"/>
<rect x="22.54" y="380.5" width="202.86" height="151.83" fill="none" stroke="#808080" stroke-width="1.0"/>
<text transform="translate(20.64 388.85) scale(1 1.1)" text-anchor="end" class="tk">0.12</text>
<text transform="translate(20.64 418.55) scale(1 1.1)" text-anchor="end" class="tk">0.08</text>
<text transform="translate(20.64 448.25) scale(1 1.1)" text-anchor="end" class="tk">0.04</text>
<text transform="translate(20.64 477.95) scale(1 1.1)" text-anchor="end" class="tk">0.00</text>
<text transform="translate(20.64 507.65) scale(1 1.1)" text-anchor="end" class="tk">-0.04</text>
<text transform="translate(33.19 539.03) scale(1 1.1)" text-anchor="middle" class="tk">-7</text>
<text transform="translate(46.2 539.03) scale(1 1.1)" text-anchor="middle" class="tk">-6</text>
<text transform="translate(59.21 539.03) scale(1 1.1)" text-anchor="middle" class="tk">-5</text>
<text transform="translate(72.21 539.03) scale(1 1.1)" text-anchor="middle" class="tk">-4</text>
<text transform="translate(85.22 539.03) scale(1 1.1)" text-anchor="middle" class="tk">-3</text>
<text transform="translate(98.23 539.03) scale(1 1.1)" text-anchor="middle" class="tk">-2</text>
<text transform="translate(111.24 539.03) scale(1 1.1)" text-anchor="middle" class="tk">-1</text>
<text transform="translate(124.24 539.03) scale(1 1.1)" text-anchor="middle" class="tk">0</text>
<text transform="translate(137.25 539.03) scale(1 1.1)" text-anchor="middle" class="tk">1</text>
<text transform="translate(150.26 539.03) scale(1 1.1)" text-anchor="middle" class="tk">2</text>
<text transform="translate(163.27 539.03) scale(1 1.1)" text-anchor="middle" class="tk">3</text>
<text transform="translate(176.28 539.03) scale(1 1.1)" text-anchor="middle" class="tk">4</text>
<text transform="translate(189.28 539.03) scale(1 1.1)" text-anchor="middle" class="tk">5</text>
<text transform="translate(202.29 539.03) scale(1 1.1)" text-anchor="middle" class="tk">6</text>
<text transform="translate(215.3 539.03) scale(1 1.1)" text-anchor="middle" class="tk">7</text>
<text x="123.97" y="545.53" text-anchor="middle" class="tt">Time (day)</text>
<text transform="translate(22.54 0)" class="tt"></text>
<text x="31.2" y="398.8" class="lt">(G)</text>
<path d="M353.45 380.5V416.8M353.45 502V532.33" stroke="#4a4a4a" stroke-width="0.9" stroke-dasharray="1.4 2.03" fill="none"/>
<line x1="251.87" x2="454.45" y1="481.4" y2="481.4" stroke="#858585" stroke-width="1.0"/>
<polygon points="262.4,416.7 275.41,433.4 288.41,418.6 301.42,430.5 314.43,417.6 327.44,443.6 340.44,481.4 353.45,418 366.46,386.7 379.46,411.1 392.47,417.3 405.48,405.5 418.49,423.2 431.49,438 444.5,429.1 444.5,511 431.49,517.6 418.49,504.4 405.48,484 392.47,497.2 379.46,489.6 366.46,464.6 353.45,500.8 340.44,481.4 327.44,525.5 314.43,495.2 301.42,514.3 288.41,500.5 275.41,512.3 262.4,495.2" fill="rgba(255,0,0,0.11)"/>
<path d="M262.4 416.7V495.2M260.95 416.7H263.85M260.95 495.2H263.85" stroke="rgba(255,0,0,0.45)" stroke-width="1.0" fill="none"/>
<path d="M275.41 433.4V512.3M273.96 433.4H276.86M273.96 512.3H276.86" stroke="rgba(255,0,0,0.45)" stroke-width="1.0" fill="none"/>
<path d="M288.41 418.6V500.5M286.96 418.6H289.86M286.96 500.5H289.86" stroke="rgba(255,0,0,0.45)" stroke-width="1.0" fill="none"/>
<path d="M301.42 430.5V514.3M299.97 430.5H302.87M299.97 514.3H302.87" stroke="rgba(255,0,0,0.45)" stroke-width="1.0" fill="none"/>
<path d="M314.43 417.6V495.2M312.98 417.6H315.88M312.98 495.2H315.88" stroke="rgba(255,0,0,0.45)" stroke-width="1.0" fill="none"/>
<path d="M327.44 443.6V525.5M325.99 443.6H328.89M325.99 525.5H328.89" stroke="rgba(255,0,0,0.45)" stroke-width="1.0" fill="none"/>
<path d="M353.45 418V500.8M352 418H354.9M352 500.8H354.9" stroke="rgba(255,0,0,0.45)" stroke-width="1.0" fill="none"/>
<path d="M366.46 386.7V464.6M365.01 386.7H367.91M365.01 464.6H367.91" stroke="rgba(255,0,0,0.45)" stroke-width="1.0" fill="none"/>
<path d="M379.46 411.1V489.6M378.01 411.1H380.91M378.01 489.6H380.91" stroke="rgba(255,0,0,0.45)" stroke-width="1.0" fill="none"/>
<path d="M392.47 417.3V497.2M391.02 417.3H393.92M391.02 497.2H393.92" stroke="rgba(255,0,0,0.45)" stroke-width="1.0" fill="none"/>
<path d="M405.48 405.5V484M404.03 405.5H406.93M404.03 484H406.93" stroke="rgba(255,0,0,0.45)" stroke-width="1.0" fill="none"/>
<path d="M418.49 423.2V504.4M417.04 423.2H419.94M417.04 504.4H419.94" stroke="rgba(255,0,0,0.45)" stroke-width="1.0" fill="none"/>
<path d="M431.49 438V517.6M430.04 438H432.94M430.04 517.6H432.94" stroke="rgba(255,0,0,0.45)" stroke-width="1.0" fill="none"/>
<path d="M444.5 429.1V511M443.05 429.1H445.95M443.05 511H445.95" stroke="rgba(255,0,0,0.45)" stroke-width="1.0" fill="none"/>
<circle cx="262.4" cy="456.25" r="1.8" fill="#ff0000"/>
<circle cx="275.41" cy="473.15" r="1.8" fill="#ff0000"/>
<circle cx="288.41" cy="459.85" r="1.8" fill="#ff0000"/>
<circle cx="301.42" cy="472.7" r="1.8" fill="#ff0000"/>
<circle cx="314.43" cy="456.7" r="1.8" fill="#ff0000"/>
<circle cx="327.44" cy="484.85" r="1.8" fill="#ff0000"/>
<circle cx="340.44" cy="481.4" r="1.8" fill="#ff0000"/>
<circle cx="353.45" cy="459.7" r="1.8" fill="#ff0000"/>
<circle cx="366.46" cy="425.95" r="1.8" fill="#ff0000"/>
<circle cx="379.46" cy="450.65" r="1.8" fill="#ff0000"/>
<circle cx="392.47" cy="457.55" r="1.8" fill="#ff0000"/>
<circle cx="405.48" cy="445.05" r="1.8" fill="#ff0000"/>
<circle cx="418.49" cy="464.1" r="1.8" fill="#ff0000"/>
<circle cx="431.49" cy="478.1" r="1.8" fill="#ff0000"/>
<circle cx="444.5" cy="470.35" r="1.8" fill="#ff0000"/>
<rect x="251.87" y="380.5" width="202.58" height="151.83" fill="none" stroke="#808080" stroke-width="1.0"/>
<text transform="translate(249.97 402.95) scale(1 1.1)" text-anchor="end" class="tk">0.10</text>
<text transform="translate(249.97 443.45) scale(1 1.1)" text-anchor="end" class="tk">0.05</text>
<text transform="translate(249.97 483.85) scale(1 1.1)" text-anchor="end" class="tk">0.00</text>
<text transform="translate(249.97 524.25) scale(1 1.1)" text-anchor="end" class="tk">-0.05</text>
<text transform="translate(262.4 539.03) scale(1 1.1)" text-anchor="middle" class="tk">-7</text>
<text transform="translate(275.41 539.03) scale(1 1.1)" text-anchor="middle" class="tk">-6</text>
<text transform="translate(288.41 539.03) scale(1 1.1)" text-anchor="middle" class="tk">-5</text>
<text transform="translate(301.42 539.03) scale(1 1.1)" text-anchor="middle" class="tk">-4</text>
<text transform="translate(314.43 539.03) scale(1 1.1)" text-anchor="middle" class="tk">-3</text>
<text transform="translate(327.44 539.03) scale(1 1.1)" text-anchor="middle" class="tk">-2</text>
<text transform="translate(340.44 539.03) scale(1 1.1)" text-anchor="middle" class="tk">-1</text>
<text transform="translate(353.45 539.03) scale(1 1.1)" text-anchor="middle" class="tk">0</text>
<text transform="translate(366.46 539.03) scale(1 1.1)" text-anchor="middle" class="tk">1</text>
<text transform="translate(379.46 539.03) scale(1 1.1)" text-anchor="middle" class="tk">2</text>
<text transform="translate(392.47 539.03) scale(1 1.1)" text-anchor="middle" class="tk">3</text>
<text transform="translate(405.48 539.03) scale(1 1.1)" text-anchor="middle" class="tk">4</text>
<text transform="translate(418.49 539.03) scale(1 1.1)" text-anchor="middle" class="tk">5</text>
<text transform="translate(431.49 539.03) scale(1 1.1)" text-anchor="middle" class="tk">6</text>
<text transform="translate(444.5 539.03) scale(1 1.1)" text-anchor="middle" class="tk">7</text>
<text x="353.16" y="545.53" text-anchor="middle" class="tt">Time (day)</text>
<text transform="translate(251.87 0)" class="tt"></text>
<text x="261.2" y="398.8" class="lt">(H)</text>
<path d="M582.48 380.5V399M582.48 495.4V532.33" stroke="#4a4a4a" stroke-width="0.9" stroke-dasharray="1.4 2.03" fill="none"/>
<line x1="481.46" x2="683.5" y1="476.7" y2="476.7" stroke="#858585" stroke-width="1.0"/>
<polygon points="491.45,407.4 504.45,426.2 517.46,403.2 530.46,435.7 543.46,399.9 556.47,406.1 569.47,476.7 582.48,400.2 595.48,386.7 608.48,407.8 621.49,413.4 634.49,420.9 647.49,411.4 660.5,415.3 673.5,415 673.5,504.1 660.5,504.4 647.49,501.5 634.49,507.1 621.49,501.1 608.48,493.2 595.48,476.8 582.48,494.2 569.47,476.7 556.47,497.2 543.46,490.6 530.46,526.1 517.46,495.5 504.45,522.2 491.45,503.1" fill="rgba(255,0,0,0.11)"/>
<path d="M491.45 407.4V503.1M490 407.4H492.9M490 503.1H492.9" stroke="rgba(255,0,0,0.45)" stroke-width="1.0" fill="none"/>
<path d="M504.45 426.2V522.2M503 426.2H505.9M503 522.2H505.9" stroke="rgba(255,0,0,0.45)" stroke-width="1.0" fill="none"/>
<path d="M517.46 403.2V495.5M516.01 403.2H518.91M516.01 495.5H518.91" stroke="rgba(255,0,0,0.45)" stroke-width="1.0" fill="none"/>
<path d="M530.46 435.7V526.1M529.01 435.7H531.91M529.01 526.1H531.91" stroke="rgba(255,0,0,0.45)" stroke-width="1.0" fill="none"/>
<path d="M543.46 399.9V490.6M542.01 399.9H544.91M542.01 490.6H544.91" stroke="rgba(255,0,0,0.45)" stroke-width="1.0" fill="none"/>
<path d="M556.47 406.1V497.2M555.02 406.1H557.92M555.02 497.2H557.92" stroke="rgba(255,0,0,0.45)" stroke-width="1.0" fill="none"/>
<path d="M582.48 400.2V494.2M581.02 400.2H583.93M581.02 494.2H583.93" stroke="rgba(255,0,0,0.45)" stroke-width="1.0" fill="none"/>
<path d="M595.48 386.7V476.8M594.03 386.7H596.93M594.03 476.8H596.93" stroke="rgba(255,0,0,0.45)" stroke-width="1.0" fill="none"/>
<path d="M608.48 407.8V493.2M607.03 407.8H609.93M607.03 493.2H609.93" stroke="rgba(255,0,0,0.45)" stroke-width="1.0" fill="none"/>
<path d="M621.49 413.4V501.1M620.04 413.4H622.94M620.04 501.1H622.94" stroke="rgba(255,0,0,0.45)" stroke-width="1.0" fill="none"/>
<path d="M634.49 420.9V507.1M633.04 420.9H635.94M633.04 507.1H635.94" stroke="rgba(255,0,0,0.45)" stroke-width="1.0" fill="none"/>
<path d="M647.49 411.4V501.5M646.04 411.4H648.94M646.04 501.5H648.94" stroke="rgba(255,0,0,0.45)" stroke-width="1.0" fill="none"/>
<path d="M660.5 415.3V504.4M659.05 415.3H661.95M659.05 504.4H661.95" stroke="rgba(255,0,0,0.45)" stroke-width="1.0" fill="none"/>
<path d="M673.5 415V504.1M672.05 415H674.95M672.05 504.1H674.95" stroke="rgba(255,0,0,0.45)" stroke-width="1.0" fill="none"/>
<circle cx="491.45" cy="455.55" r="1.8" fill="#ff0000"/>
<circle cx="504.45" cy="474.5" r="1.8" fill="#ff0000"/>
<circle cx="517.46" cy="449.65" r="1.8" fill="#ff0000"/>
<circle cx="530.46" cy="481.2" r="1.8" fill="#ff0000"/>
<circle cx="543.46" cy="445.55" r="1.8" fill="#ff0000"/>
<circle cx="556.47" cy="451.95" r="1.8" fill="#ff0000"/>
<circle cx="569.47" cy="476.7" r="1.8" fill="#ff0000"/>
<circle cx="582.48" cy="447.5" r="1.8" fill="#ff0000"/>
<circle cx="595.48" cy="432.05" r="1.8" fill="#ff0000"/>
<circle cx="608.48" cy="450.8" r="1.8" fill="#ff0000"/>
<circle cx="621.49" cy="457.55" r="1.8" fill="#ff0000"/>
<circle cx="634.49" cy="464.3" r="1.8" fill="#ff0000"/>
<circle cx="647.49" cy="456.75" r="1.8" fill="#ff0000"/>
<circle cx="660.5" cy="460.15" r="1.8" fill="#ff0000"/>
<circle cx="673.5" cy="459.85" r="1.8" fill="#ff0000"/>
<rect x="481.46" y="380.5" width="202.04" height="151.83" fill="none" stroke="#808080" stroke-width="1.0"/>
<text transform="translate(479.56 389.85) scale(1 1.1)" text-anchor="end" class="tk">0.10</text>
<text transform="translate(479.56 434.55) scale(1 1.1)" text-anchor="end" class="tk">0.05</text>
<text transform="translate(479.56 479.25) scale(1 1.1)" text-anchor="end" class="tk">0.00</text>
<text transform="translate(479.56 523.95) scale(1 1.1)" text-anchor="end" class="tk">-0.05</text>
<text transform="translate(491.45 539.03) scale(1 1.1)" text-anchor="middle" class="tk">-7</text>
<text transform="translate(504.45 539.03) scale(1 1.1)" text-anchor="middle" class="tk">-6</text>
<text transform="translate(517.46 539.03) scale(1 1.1)" text-anchor="middle" class="tk">-5</text>
<text transform="translate(530.46 539.03) scale(1 1.1)" text-anchor="middle" class="tk">-4</text>
<text transform="translate(543.46 539.03) scale(1 1.1)" text-anchor="middle" class="tk">-3</text>
<text transform="translate(556.47 539.03) scale(1 1.1)" text-anchor="middle" class="tk">-2</text>
<text transform="translate(569.47 539.03) scale(1 1.1)" text-anchor="middle" class="tk">-1</text>
<text transform="translate(582.48 539.03) scale(1 1.1)" text-anchor="middle" class="tk">0</text>
<text transform="translate(595.48 539.03) scale(1 1.1)" text-anchor="middle" class="tk">1</text>
<text transform="translate(608.48 539.03) scale(1 1.1)" text-anchor="middle" class="tk">2</text>
<text transform="translate(621.49 539.03) scale(1 1.1)" text-anchor="middle" class="tk">3</text>
<text transform="translate(634.49 539.03) scale(1 1.1)" text-anchor="middle" class="tk">4</text>
<text transform="translate(647.49 539.03) scale(1 1.1)" text-anchor="middle" class="tk">5</text>
<text transform="translate(660.5 539.03) scale(1 1.1)" text-anchor="middle" class="tk">6</text>
<text transform="translate(673.5 539.03) scale(1 1.1)" text-anchor="middle" class="tk">7</text>
<text x="582.48" y="545.53" text-anchor="middle" class="tt">Time (day)</text>
<text transform="translate(481.46 0)" class="tt"></text>
<text x="488.3" y="398.8" class="lt">(I)</text>
<text transform="translate(5.9 76.6) rotate(-90)" text-anchor="middle" class="tt">Estimated coefficients</text>
<text transform="translate(235.2 76.6) rotate(-90)" text-anchor="middle" class="tt">Estimated coefficients</text>
<text transform="translate(463.8 76.6) rotate(-90)" text-anchor="middle" class="tt">Estimated coefficients</text>
<text transform="translate(5.9 266.67) rotate(-90)" text-anchor="middle" class="tt">Estimated coefficients</text>
<text transform="translate(234.2 266.67) rotate(-90)" text-anchor="middle" class="tt">Estimated coefficients</text>
<text transform="translate(463.8 266.67) rotate(-90)" text-anchor="middle" class="tt">Estimated coefficients</text>
<text transform="translate(5.9 456.42) rotate(-90)" text-anchor="middle" class="tt">Estimated coefficients</text>
<text transform="translate(234.8 456.42) rotate(-90)" text-anchor="middle" class="tt">Estimated coefficients</text>
<text transform="translate(463.8 456.42) rotate(-90)" text-anchor="middle" class="tt">Estimated coefficients</text>
</svg>
</body></html>
